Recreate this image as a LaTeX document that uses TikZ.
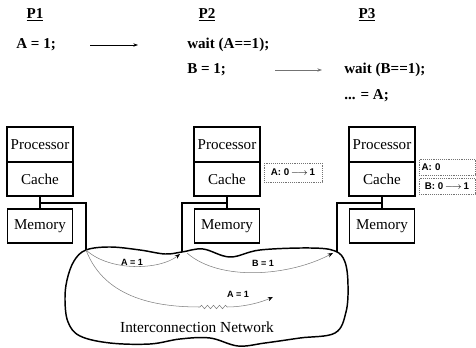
\documentclass[tikz,border=0pt]{standalone}
\usepackage{fontspec}
\setmainfont{Liberation Serif}
\setsansfont{Liberation Sans}
\usetikzlibrary{positioning,arrows.meta,decorations.pathmorphing}
\tikzset {
    style unit/.style={
        draw=black,
        line width=1.2pt,
        rectangle, % box of one processing node
        outer sep=0pt,
        inner sep=0pt,
        minimum width=49.5pt,
        minimum height=25.5pt,
        anchor=north,
        font=\fontsize{11.3}{13}\selectfont,
    },
    style tag/.style={
        draw=black!55,
        densely dotted,
        thin,
        rectangle,
        inner sep=1.5pt,
        minimum width=42pt,
        minimum height=12pt,
        align=left,
        font=\sffamily\bfseries\fontsize{7.3}{8}\selectfont,
    },
    style code/.style={
        anchor=west,
        inner sep=0pt,
        font=\bfseries\fontsize{11.3}{13}\selectfont,
    },
    style lbl/.style={
        inner sep=0pt,
        font=\sffamily\bfseries\fontsize{6.8}{7}\selectfont,
    },
    style link/.style={draw=black, line width=1.2pt},
    style msg/.style={draw=black!50, thin, -{Stealth[length=4pt,width=3pt,black]}},
}
\newcommand{\tagarrow}{\,$\relbar\joinrel\rightarrow$\,}
\begin{document}
\begin{tikzpicture}[x=0.75pt, y=-0.75pt]
\useasboundingbox (0,0) rectangle (476,348);

% program order
\node[font=\bfseries\fontsize{11.3}{13}\selectfont] (p1) at (35,15) {\underline{P1}};
\node[font=\bfseries\fontsize{11.3}{13}\selectfont] (p2) at (207,15) {\underline{P2}};
\node[font=\bfseries\fontsize{11.3}{13}\selectfont] (p3) at (367,15) {\underline{P3}};
\node[style code] (setA) at (16,45) {A = 1;};
\node[style code] (waitA) at (187,45) {wait (A==1);};
\node[style code] (setB) at (187,70) {B = 1;};
\node[style code] (waitB) at (344,70) {wait (B==1);};
\node[style code] (useA) at (344,96) {... = A;};
\coordinate (f1) at (90,45);
\coordinate (t1) at (138,45);
\coordinate (f2) at (275,70);
\coordinate (t2) at (322,70);
\draw[thin, -{Stealth[length=3.5pt,width=2.5pt]}] (f1) -- (t1);
\draw[thin, black!55, -{Stealth[length=3.5pt,width=2.5pt]}] (f2) -- (t2);

% processing nodes
\node[style unit, minimum height=26.25pt] at (40,127) (proc1) {Processor};
\node[style unit, below=0pt of proc1] (cache1) {Cache};
\node[style unit, minimum width=48.75pt] at (40,209) (mem1) {Memory};
\node[style unit, minimum height=26.25pt] at (227,127) (proc2) {Processor};
\node[style unit, below=0pt of proc2] (cache2) {Cache};
\node[style unit, minimum width=48.75pt] at (227,209) (mem2) {Memory};
\node[style unit, minimum height=26.25pt] at (382,127) (proc3) {Processor};
\node[style unit, below=0pt of proc3] (cache3) {Cache};
\node[style unit, minimum width=48.75pt] at (382,209) (mem3) {Memory};

% cache contents
\node[style tag, minimum width=43.5pt, minimum height=14pt] at (293,172.5) (tagA2) {A: 0\tagarrow1};
\node[style tag, text width=38pt] at (447,167) (tagA3) {A: 0};
\node[style tag] at (447,186) (tagB3) {B: 0\tagarrow1};

% links to the network
\coordinate (j1) at (40,203);
\coordinate (j2) at (227,203);
\coordinate (j3) at (382,203);
\coordinate (n1) at (86,250);
\coordinate (n2) at (182,252);
\coordinate (n3) at (337,252);
\draw[style link] (cache1) -- (mem1);
\draw[style link] (cache2) -- (mem2);
\draw[style link] (cache3) -- (mem3);
\draw[style link] (j1) -| (n1);
\draw[style link] (j2) -| (n2);
\draw[style link] (j3) -| (n3);

% network cloud
\draw[line width=1.1pt] plot[smooth cycle, tension=0.6] coordinates {
  (86,250) (110,247) (140,250) (165,254) (182,252) (203,249) (230,257)
  (260,250) (310,248) (335,251) (345,262) (348,285) (346,312) (335,333)
  (300,338) (265,343) (238,346) (210,338) (180,339) (150,344) (110,343)
  (80,336) (68,322) (65,300) (67,280) (74,261)};
\node[font=\fontsize{11.5}{13}\selectfont] (net) at (197,327) {Interconnection Network};

% messages
\coordinate (m1) at (180,254);
\coordinate (s2) at (187,253);
\coordinate (m2) at (333,253);
\coordinate (z1) at (200,307);
\coordinate (z2) at (227,307);
\coordinate (m3) at (273,297);
\draw[style msg] (n1) .. controls (110,272) and (160,270) .. (m1);
\draw[style msg] (s2) .. controls (220,282) and (290,276) .. (m2);
\draw[draw=black!50, thin] (n1) .. controls (105,300) and (160,307) .. (z1);
\draw[draw=black!50, thin, decorate, decoration={zigzag, segment length=4.5pt, amplitude=1.3pt}] (z1) -- (z2);
\draw[style msg] (z2) .. controls (245,307) and (262,302) .. (m3);
\node[style lbl] (lblA1) at (132,262) {A = 1};
\node[style lbl] (lblB) at (263,263) {B = 1};
\node[style lbl] (lblA2) at (238,294) {A = 1};
\end{tikzpicture}
\end{document}
